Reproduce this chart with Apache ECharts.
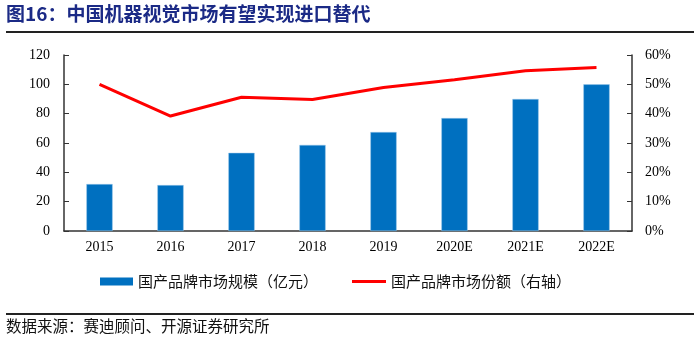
<!DOCTYPE html>
<html><head><meta charset="utf-8">
<script src="https://cdn.jsdelivr.net/npm/echarts@6/dist/echarts.min.js"></script>
<style>html,body{margin:0;padding:0;background:#fff;}#c{width:700px;height:344px;}</style>
</head><body><div id="c"></div>
<script>
const categories = ['2015','2016','2017','2018','2019','2020E','2021E','2022E'];
const marketSize = [32, 31.3, 53.3, 58.7, 67.5, 77, 90, 100];
const marketShare = [50.0, 39.2, 45.6, 44.8, 48.9, 51.6, 54.6, 55.7];
const leftTicks = [0, 120, 20];
const rightTicks = [0, 60, 10];
const titleText = '图16：中国机器视觉市场有望实现进口替代';
const sourceText = '数据来源：赛迪顾问、开源证券研究所';
const seriesNames = ['国产品牌市场规模（亿元）', '国产品牌市场份额（右轴）'];

const chart = echarts.init(document.getElementById('c'));
const serif = '"Liberation Serif", "Times New Roman", serif';
const legendText = {fontSize: 15, color:'#111', fontFamily:'"Noto Sans CJK SC", serif'};
chart.setOption({
  animation: false,
  graphic: [
    {type:'text', left: 6, top: 4, style:{text: titleText, fill:'#1b2a86', font:'bold 19px "Noto Sans CJK SC", serif'}},
    {type:'rect', shape:{x:6, y:31, width:688, height:2}, style:{fill:'#222'}},
    {type:'rect', shape:{x:6, y:313, width:688, height:2}, style:{fill:'#222'}},
    {type:'text', left: 6, top: 318, style:{text: sourceText, fill:'#111', font:'15.5px "Noto Sans CJK SC", serif'}}
  ],
  legend: [
    {top: 274, left: 100, padding: 0, itemWidth: 33, itemHeight: 8, itemGap: 6, textStyle: legendText,
     data: [{name: seriesNames[0], icon:'rect', itemStyle:{borderWidth:0}}]},
    {top: 274, left: 352, padding: 0, itemWidth: 34, itemHeight: 3, textStyle: legendText,
     data: [{name: seriesNames[1], icon:'rect'}]}
  ],
  grid: {left: 64, right: 68, top: 55, bottom: 113},
  xAxis: {
    type: 'category', data: categories, boundaryGap: true,
    axisLine: {lineStyle:{color:'#333', width:1.5}},
    axisTick: {inside: true, length: 5, lineStyle:{color:'#333'}},
    axisLabel: {color:'#000', fontSize: 14, fontFamily: serif, margin: 9}
  },
  yAxis: [
    {type:'value', min: leftTicks[0], max: leftTicks[1], interval: leftTicks[2],
     axisLine:{show:true, lineStyle:{color:'#333', width:1.5}},
     axisTick:{show:true, inside:true, length:5, lineStyle:{color:'#333'}},
     splitLine:{show:false},
     axisLabel:{color:'#000', fontSize:14, fontFamily: serif, margin: 14}},
    {type:'value', min: rightTicks[0], max: rightTicks[1], interval: rightTicks[2], position:'right',
     axisLine:{show:true, lineStyle:{color:'#333', width:1.5}},
     axisTick:{show:true, inside:true, length:5, lineStyle:{color:'#333'}},
     splitLine:{show:false},
     axisLabel:{color:'#000', fontSize:14, fontFamily: serif, margin: 13, formatter: '{value}%'}}
  ],
  series: [
    {name: seriesNames[0], type:'bar', data: marketSize, barWidth: '37%',
     itemStyle:{color:'#0070C0', borderColor:'#9cc8ea', borderWidth:0.5}},
    {name: seriesNames[1], type:'line', yAxisIndex:1, data: marketShare, symbol:'none',
     lineStyle:{color:'#FF0000', width:3}, itemStyle:{color:'#FF0000'}}
  ]
});
</script></body></html>
